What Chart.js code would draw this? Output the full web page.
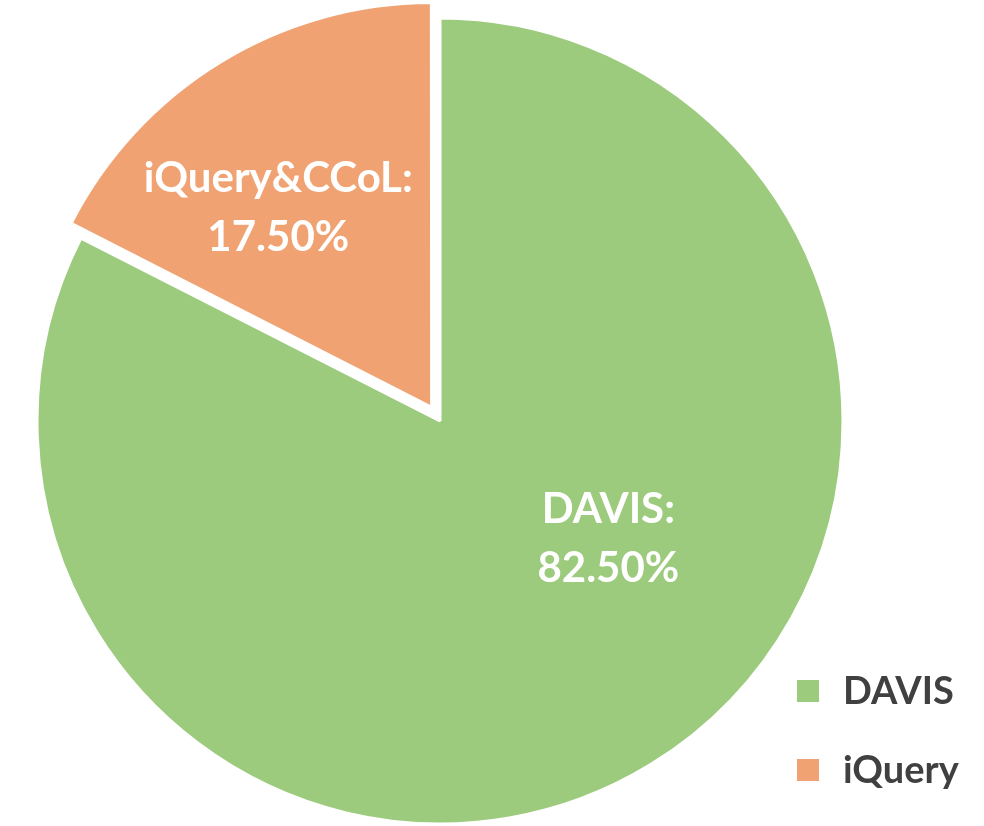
<!DOCTYPE html>
<html>
<head>
<meta charset="utf-8">
<script src="https://cdn.jsdelivr.net/npm/chart.js@4"></script>
<style>
  html, body { margin: 0; padding: 0; background: #ffffff; }
  #box { width: 984px; height: 826px; }
</style>
</head>
<body>
<div id="box"><canvas id="grafico"></canvas></div>
<script>
// datos del grafico
const categorias = ['DAVIS', 'iQuery'];
const etiquetasPorcion = ['DAVIS:', 'iQuery&CCoL:'];
const valores = [82.5, 17.5];
const colores = ['#9ccb7d', '#f0a272'];

// etiquetas blancas dentro de cada porcion
const etiquetasPlugin = {
    id: 'etiquetas',
    afterDatasetsDraw(chart) {
        const ctx = chart.ctx;
        const arcos = chart.getDatasetMeta(0).data;
        // angulo extra y fraccion del radio para acercarse a la posicion original
        const ajuste = [{ da: -0.41, f: 0.51 }, { da: -0.098, f: 0.665 }];
        ctx.save();
        ctx.fillStyle = '#ffffff';
        ctx.font = 'bold 42px Lato';
        ctx.textAlign = 'center';
        ctx.textBaseline = 'middle';
        arcos.forEach((arco, i) => {
            const p = arco.getProps(['x', 'y', 'startAngle', 'endAngle', 'outerRadius']);
            const medio = (p.startAngle + p.endAngle) / 2 + ajuste[i].da;
            const r = p.outerRadius * ajuste[i].f;
            const x = p.x + Math.cos(medio) * r;
            const y = p.y + Math.sin(medio) * r;
            ctx.fillText(etiquetasPorcion[i], x, y - 29);
            ctx.fillText(valores[i].toFixed(2) + '%', x, y + 30);
        });
        ctx.restore();
    }
};

// leyenda dibujada a mano abajo a la derecha
const leyendaPlugin = {
    id: 'leyenda',
    afterDraw(chart) {
        const ctx = chart.ctx;
        ctx.save();
        ctx.font = 'bold 38px Lato';
        ctx.textBaseline = 'middle';
        ctx.textAlign = 'left';
        categorias.forEach((c, i) => {
            const y = 691 + i * 79;
            ctx.fillStyle = colores[i];
            ctx.fillRect(797, y - 11, 22, 22);
            ctx.fillStyle = '#404040';
            ctx.fillText(c, 843, y + 1);
        });
        ctx.restore();
    }
};

const ctx = document.getElementById('grafico').getContext('2d');
const chart = new Chart(ctx, {
    type: 'pie',
    data: {
        labels: categorias,
        datasets: [{
            data: valores,
            backgroundColor: colores,
            borderColor: '#ffffff',
            borderWidth: 3,
            offset: [0, 64], // chart.js divide el offset entre 4 al dibujar
            clip: false
        }]
    },
    options: {
        responsive: true,
        maintainAspectRatio: false,
        animation: false,
        radius: 403,
        layout: { padding: { left: 0, right: 104, top: 16, bottom: 0 } },
        plugins: {
            legend: { display: false },
            tooltip: { enabled: false }
        }
    },
    plugins: [etiquetasPlugin, leyendaPlugin]
});
</script>
</body>
</html>
